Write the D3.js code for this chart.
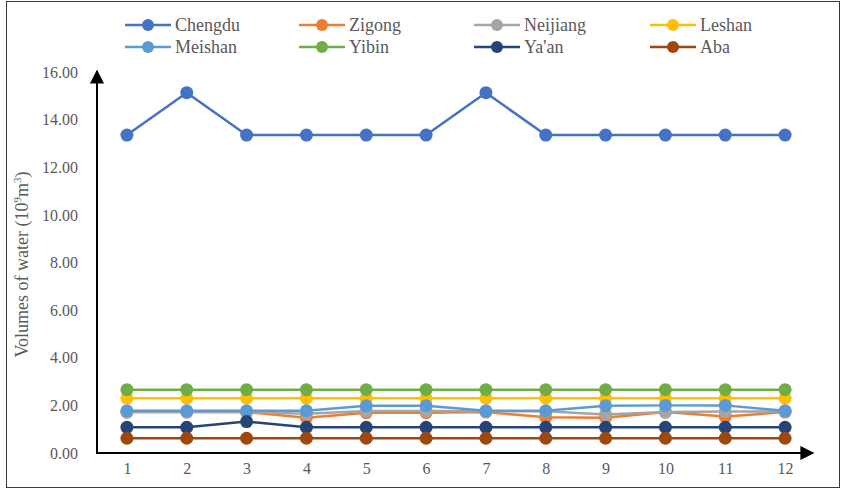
<!DOCTYPE html>
<html>
<head>
<meta charset="utf-8">
<script src="https://cdn.jsdelivr.net/npm/d3@7"></script>
<style>
  html, body { margin: 0; padding: 0; background: #fff; }
  svg { display: block; }
</style>
</head>
<body>
<svg id="chart" width="843" height="490"></svg>
<script>
// Monthly water volumes (10^9 m^3) by city
const months = [1, 2, 3, 4, 5, 6, 7, 8, 9, 10, 11, 12];
const seriesNames = ["Chengdu", "Zigong", "Neijiang", "Leshan", "Meishan", "Yibin", "Ya'an", "Aba"];
const seriesColors = ["#4472C4", "#ED7D31", "#A5A5A5", "#FFC000", "#5B9BD5", "#70AD47", "#264478", "#9E480E"];

const chengdu  = [13.35, 15.13, 13.35, 13.35, 13.35, 13.35, 15.13, 13.35, 13.35, 13.35, 13.35, 13.35];
const zigong   = [1.72, 1.72, 1.72, 1.48, 1.69, 1.69, 1.72, 1.50, 1.48, 1.72, 1.53, 1.72];
const neijiang = [1.72, 1.72, 1.72, 1.65, 1.76, 1.76, 1.75, 1.75, 1.62, 1.72, 1.74, 1.75];
const leshan   = [2.30, 2.30, 2.30, 2.30, 2.30, 2.30, 2.30, 2.30, 2.30, 2.30, 2.30, 2.30];
const meishan  = [1.77, 1.77, 1.77, 1.77, 1.98, 1.98, 1.77, 1.77, 1.98, 2.00, 2.00, 1.77];
const yibin    = [2.66, 2.66, 2.66, 2.66, 2.66, 2.66, 2.66, 2.66, 2.66, 2.66, 2.66, 2.66];
const yaan     = [1.08, 1.08, 1.32, 1.08, 1.08, 1.08, 1.08, 1.08, 1.08, 1.08, 1.08, 1.08];
const aba      = [0.62, 0.62, 0.62, 0.62, 0.62, 0.62, 0.62, 0.62, 0.62, 0.62, 0.62, 0.62];

const yTicks = [0, 2, 4, 6, 8, 10, 12, 14, 16];

const seriesValues = [chengdu, zigong, neijiang, leshan, meishan, yibin, yaan, aba];
const series = seriesNames.map((name, i) => ({ name, color: seriesColors[i], values: seriesValues[i] }));

const FONT = "'Liberation Serif', 'Times New Roman', Times, 'DejaVu Serif', serif";
const TEXT_COLOR = "#595959";

const svg = d3.select("#chart").attr("font-family", FONT);

// outer frame
svg.append("rect")
  .attr("x", 6.5).attr("y", 1.5).attr("width", 833).attr("height", 486)
  .attr("fill", "none").attr("stroke", "#3a3a3a").attr("stroke-width", 1);

const plotLeft = 97, plotRight = 815, plotTop = 72, plotBottom = 453;

const x = d3.scalePoint().domain(months).range([plotLeft, plotRight]).padding(0.5);
const y = d3.scaleLinear().domain([0, 16]).range([plotBottom, plotTop]);

// arrowhead for the axes
const defs = svg.append("defs");
defs.append("marker")
  .attr("id", "arrow").attr("viewBox", "0 0 10 10")
  .attr("refX", 9).attr("refY", 5)
  .attr("markerWidth", 14).attr("markerHeight", 14)
  .attr("markerUnits", "userSpaceOnUse")
  .attr("orient", "auto")
  .append("path").attr("d", "M0,0 L10,5 L0,10 Z").attr("fill", "#000");

// y-axis labels
const yAxis = d3.axisLeft(y).tickValues(yTicks).tickFormat(d3.format(".2f")).tickSize(0).tickPadding(19);
const gy = svg.append("g").attr("transform", `translate(${plotLeft},0)`).call(yAxis);
gy.attr("font-family", FONT).attr("font-size", 16);
gy.select(".domain").remove();
gy.selectAll("text").attr("fill", TEXT_COLOR);

// x-axis labels
const xAxis = d3.axisBottom(x).tickSize(0).tickPadding(10);
const gx = svg.append("g").attr("transform", `translate(0,${plotBottom})`).call(xAxis);
gx.attr("font-family", FONT).attr("font-size", 16);
gx.select(".domain").remove();
gx.selectAll("text").attr("fill", TEXT_COLOR);

// axis lines with arrows
svg.append("line")
  .attr("x1", plotLeft).attr("y1", plotBottom).attr("x2", plotLeft).attr("y2", plotTop - 1)
  .attr("stroke", "#000").attr("stroke-width", 2).attr("marker-end", "url(#arrow)");
svg.append("line")
  .attr("x1", plotLeft - 1).attr("y1", plotBottom).attr("x2", plotRight - 2).attr("y2", plotBottom)
  .attr("stroke", "#000").attr("stroke-width", 2).attr("marker-end", "url(#arrow)");

// y-axis title
const title = svg.append("text")
  .attr("transform", `translate(28,${(plotTop + plotBottom) / 2 + 2}) rotate(-90)`)
  .attr("text-anchor", "middle")
  .attr("font-size", 18).attr("fill", TEXT_COLOR);
title.append("tspan").text("Volumes of water (10");
title.append("tspan").text("9").attr("font-size", 11).attr("dy", -7);
title.append("tspan").text("m").attr("dy", 7);
title.append("tspan").text("3").attr("font-size", 11).attr("dy", -7);
title.append("tspan").text(")").attr("dy", 7);

// lines and markers
const line = d3.line().x((d, i) => x(months[i])).y(d => y(d));
const gSeries = svg.append("g");
series.forEach(s => {
  const g = gSeries.append("g");
  g.append("path").attr("d", line(s.values))
    .attr("fill", "none").attr("stroke", s.color).attr("stroke-width", 2.5)
    .attr("stroke-linejoin", "round");
  g.selectAll("circle").data(s.values).join("circle")
    .attr("cx", (d, i) => x(months[i])).attr("cy", d => y(d))
    .attr("r", 6.5).attr("fill", s.color);
});

// legend
const legendCols = [148, 322, 497, 673];
const legendRows = [25, 47];
series.forEach((s, i) => {
  const cx = legendCols[i % 4], cy = legendRows[Math.floor(i / 4)];
  const g = svg.append("g");
  g.append("line").attr("x1", cx - 23).attr("x2", cx + 23).attr("y1", cy).attr("y2", cy)
    .attr("stroke", s.color).attr("stroke-width", 2.5);
  g.append("circle").attr("cx", cx).attr("cy", cy).attr("r", 6).attr("fill", s.color);
  g.append("text").attr("x", cx + 27).attr("y", cy + 6)
    .attr("font-size", 18).attr("fill", TEXT_COLOR).text(s.name);
});
</script>
</body>
</html>
